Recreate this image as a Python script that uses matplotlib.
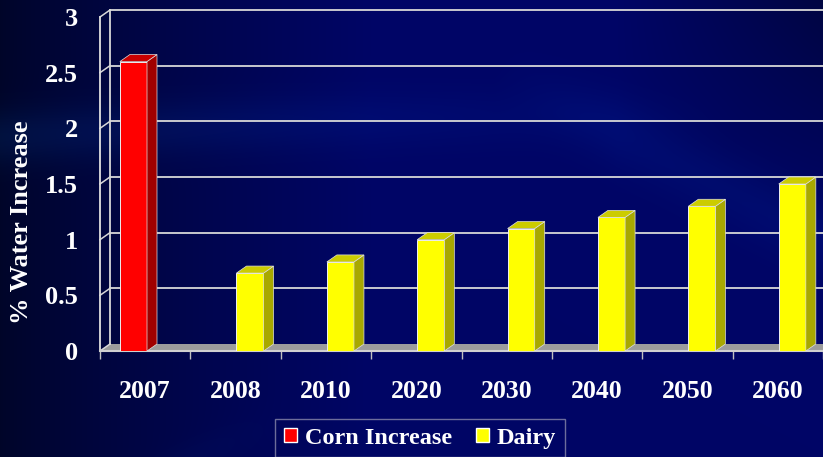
import numpy as np
import matplotlib.pyplot as plt
from matplotlib.patches import Polygon, Patch

years = ['2007', '2008', '2010', '2020', '2030', '2040', '2050', '2060']
corn = [2.6, np.nan, np.nan, np.nan, np.nan, np.nan, np.nan, np.nan]
dairy = [np.nan, 0.7, 0.8, 1.0, 1.1, 1.2, 1.3, 1.5]
yticks = [0, 0.5, 1, 1.5, 2, 2.5, 3]
ytick_labels = ['0', '0.5', '1', '1.5', '2', '2.5', '3']

plt.rcParams['font.family'] = ['Liberation Serif', 'DejaVu Serif']
plt.rcParams['font.weight'] = 'bold'

W, H = 823, 457
fig = plt.figure(figsize=(W / 100, H / 100), dpi=100)

# background: dark navy slide with lighter swooshes
yy, xx = np.mgrid[0:H, 0:W]
xn = xx / W
yn = yy / H
blue = 0.16 + 0.24 * np.clip(xn / 0.45, 0, 1) ** 0.8
blue -= 0.14 * np.clip((xn - 0.75) / 0.25, 0, 1) * np.clip(1 - yn / 0.5, 0, 1)
band1 = np.exp(-((yn - (0.30 - 0.12 * xn + 0.08 * xn ** 2)) / 0.06) ** 2) * np.clip(1 - xn / 0.9, 0, 1)
band2 = np.exp(-((yn - (0.25 + 0.9 * (xn - 0.70))) / 0.08) ** 2) * np.clip((xn - 0.6) / 0.15, 0, 1)
band3 = np.exp(-((np.hypot(xn - 0.55, (yn - 1.9) * 0.6) - 0.62) / 0.025) ** 2) * np.clip(1 - xn / 0.35, 0, 1)
light = 0.6 * band1 + 0.3 * band2 + 0.5 * band3
img = np.dstack([0.01 * light, 0.02 + 0.08 * light, blue + 0.14 * light])
img = np.clip(img, 0, 1)
bg = fig.add_axes([0, 0, 1, 1], zorder=0)
bg.imshow(img, aspect='auto', extent=[0, 1, 0, 1])
bg.axis('off')

ax = fig.add_axes([100 / W, 1 - 351 / H, 723 / W, 334 / H], zorder=1)
ax.patch.set_alpha(0)
ax.set_xlim(-0.5, 7.5)
ax.set_ylim(0, 3)

dx = 10 / 90.4
dy = 7 / 111.3
grid_c = '#d8d8d8'

# floor
ax.add_patch(Polygon([(-0.5, 0), (8.0, 0), (8.0 + dx, dy), (-0.5 + dx, dy)],
                     closed=True, fc='#9c9c9c', ec='none', clip_on=False, zorder=1))
# back wall gridlines and left wall
for v in yticks:
    if v > 0:
        ax.plot([-0.5 + dx, 8.0], [v + dy, v + dy], color=grid_c, lw=1.3, clip_on=False, zorder=1)
    ax.plot([-0.5, -0.5 + dx], [v, v + dy], color=grid_c, lw=1.1, clip_on=False, zorder=1)
ax.plot([-0.5 + dx, -0.5 + dx], [dy, 3 + dy], color=grid_c, lw=1.3, clip_on=False, zorder=1)

x = np.arange(len(years))
w = 0.3


def bar3d(left, heights, front, side, top):
    for xi, h in zip(left, heights):
        if np.isnan(h):
            continue
        ax.bar(xi, h, width=w, align='edge', color=front, edgecolor='#f0f0f0', lw=0.7, zorder=3)
        ax.add_patch(Polygon([(xi + w, 0), (xi + w + dx, dy), (xi + w + dx, h + dy), (xi + w, h)],
                             closed=True, fc=side, ec='#e0e0e0', lw=0.5, zorder=3))
        ax.add_patch(Polygon([(xi, h), (xi + dx, h + dy), (xi + w + dx, h + dy), (xi + w, h)],
                             closed=True, fc=top, ec='#e0e0e0', lw=0.5, zorder=3, clip_on=False))


bar3d(x - 0.28, corn, '#ff0000', '#a00000', '#c80000')
bar3d(x + 0.01, dairy, '#ffff00', '#a8a800', '#cccc00')

# axes styling
for s in ['top', 'right']:
    ax.spines[s].set_visible(False)
ax.spines['left'].set_color('#e0e0e0')
ax.spines['left'].set_linewidth(1.3)
ax.spines['bottom'].set_color('#d0d0d0')
ax.spines['bottom'].set_linewidth(1.5)
ax.spines['bottom'].set_bounds(-0.5, 8.0)

ax.set_xticks(x)
ax.set_xticklabels(years)
ax.set_xticks(np.arange(-0.5, 8.0, 1), minor=True)
ax.tick_params(axis='x', which='major', length=0, pad=21, labelsize=18.5, labelcolor='white')
ax.tick_params(axis='x', which='minor', length=6, color='#c0c0c0', width=1)
ax.set_yticks(yticks)
ax.set_yticklabels(ytick_labels)
ax.tick_params(axis='y', length=0, pad=16, labelsize=19, labelcolor='white')

fig.text(22 / W, 1 - 222 / H, '% Water Increase', rotation=90, ha='center', va='center',
         color='white', fontsize=19, fontweight='bold')

handles = [Patch(fc='#ff0000', ec='white', lw=1), Patch(fc='#ffff00', ec='white', lw=1)]
leg = fig.legend(handles, ['Corn Increase', 'Dairy'], loc='upper center',
                 bbox_to_anchor=(420 / W, 1 - 419 / H), ncol=2, frameon=True,
                 fancybox=False, edgecolor='#8888aa', facecolor='none',
                 prop={'family': 'Liberation Serif', 'weight': 'bold', 'size': 17.5},
                 labelcolor='white', handlelength=0.55, handleheight=0.55,
                 handletextpad=0.3, columnspacing=1.0, borderpad=0.35,
                 borderaxespad=0)
leg.get_frame().set_linewidth(1)

fig.savefig('out.png', dpi=100)
